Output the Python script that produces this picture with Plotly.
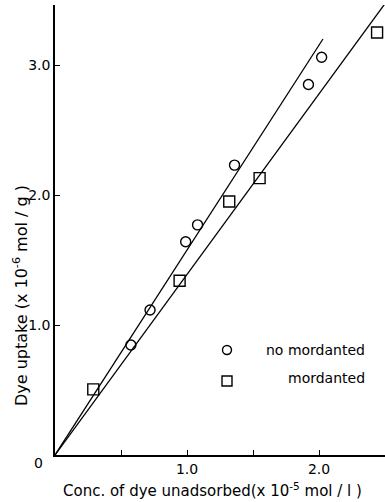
import plotly.graph_objects as go

# --- data ---
no_mord_x = [0.575, 0.72, 0.99, 1.08, 1.36, 1.92, 2.02]
no_mord_y = [0.846, 1.115, 1.64, 1.77, 2.23, 2.85, 3.06]
mord_x = [0.29, 0.944, 1.32, 1.55, 2.44]
mord_y = [0.505, 1.34, 1.95, 2.13, 3.25]
fit_no_x = [0.0, 2.03]
fit_no_y = [0.0, 3.20]
fit_m_x = [0.0, 2.52]
fit_m_y = [0.0, 3.50]
x_tickvals = [0.5, 1.0, 1.5, 2.0]
x_ticktext = ["", "1.0", "", "2.0"]
y_tickvals = [0, 1.0, 2.0, 3.0]
y_ticktext = ["", "1.0", "2.0", "3.0"]

FONT = "DejaVu Sans"
W, H = 385, 502
ML, MR, MT, MB = 55, 0, 5, 47
PW = W - ML - MR
PH = H - MT - MB

fig = go.Figure()
fig.add_trace(go.Scatter(x=fit_no_x, y=fit_no_y, mode="lines",
                         line=dict(color="black", width=1.3), showlegend=False))
fig.add_trace(go.Scatter(x=fit_m_x, y=fit_m_y, mode="lines",
                         line=dict(color="black", width=1.3), showlegend=False))
fig.add_trace(go.Scatter(x=no_mord_x, y=no_mord_y, mode="markers",
                         marker=dict(symbol="circle-open", size=10, color="black",
                                     line=dict(width=1.4)), showlegend=False))
fig.add_trace(go.Scatter(x=mord_x, y=mord_y, mode="markers",
                         marker=dict(symbol="square-open", size=11, color="black",
                                     line=dict(width=1.4)), showlegend=False))

def px_x(p):
    return (p - ML) / PW

def px_y(p):
    return 1 - (p - MT) / PH

# legend keys
fig.add_shape(type="circle", xref="paper", yref="paper", xsizemode="pixel", ysizemode="pixel",
              xanchor=px_x(227), yanchor=px_y(350), x0=-4.5, x1=4.5, y0=-4.5, y1=4.5,
              line=dict(color="black", width=1.4))
fig.add_shape(type="rect", xref="paper", yref="paper", xsizemode="pixel", ysizemode="pixel",
              xanchor=px_x(227), yanchor=px_y(381), x0=-5, x1=5, y0=-5, y1=5,
              line=dict(color="black", width=1.4))
fig.add_annotation(text="no mordanted", xref="paper", yref="paper", x=px_x(367), y=px_y(350),
                   xanchor="right", yanchor="middle", showarrow=False,
                   font=dict(family=FONT, size=14, color="black"))
fig.add_annotation(text="mordanted", xref="paper", yref="paper", x=px_x(367), y=px_y(378),
                   xanchor="right", yanchor="middle", showarrow=False,
                   font=dict(family=FONT, size=14, color="black"))

# origin label
fig.add_annotation(text="0", xref="paper", yref="paper", x=px_x(38), y=px_y(463),
                   xanchor="center", yanchor="middle", showarrow=False,
                   font=dict(family=FONT, size=14, color="black"))

# axis titles
fig.add_annotation(text="Conc. of dye unadsorbed(x 10<sup>-5</sup> mol / l )", xref="paper", yref="paper",
                   x=px_x(212), y=px_y(490), xanchor="center", yanchor="middle", showarrow=False,
                   font=dict(family=FONT, size=15, color="black"))
fig.add_annotation(text="Dye uptake (x 10<sup>-6</sup> mol / g )", xref="paper", yref="paper",
                   x=px_x(20), y=px_y(296), xanchor="center", yanchor="middle", showarrow=False,
                   textangle=-90, font=dict(family=FONT, size=16, color="black"))

fig.update_layout(
    width=W, height=H,
    margin=dict(l=ML, r=MR, t=MT, b=MB),
    paper_bgcolor="white", plot_bgcolor="white",
    font=dict(family=FONT, size=14, color="black"),
    xaxis=dict(range=[0, PW / 132.0], showgrid=False, zeroline=False,
               showline=True, linecolor="black", linewidth=1.5,
               ticks="inside", ticklen=5, tickwidth=1.3, tickcolor="black",
               tickvals=x_tickvals, ticktext=x_ticktext,
               tickfont=dict(family=FONT, size=14)),
    yaxis=dict(range=[0, PH / 130.0], showgrid=False, zeroline=False,
               showline=True, linecolor="black", linewidth=1.5,
               ticks="inside", ticklen=5, tickwidth=1.3, tickcolor="black",
               tickvals=y_tickvals, ticktext=y_ticktext,
               tickfont=dict(family=FONT, size=14)),
)

fig.write_html("out.html")
